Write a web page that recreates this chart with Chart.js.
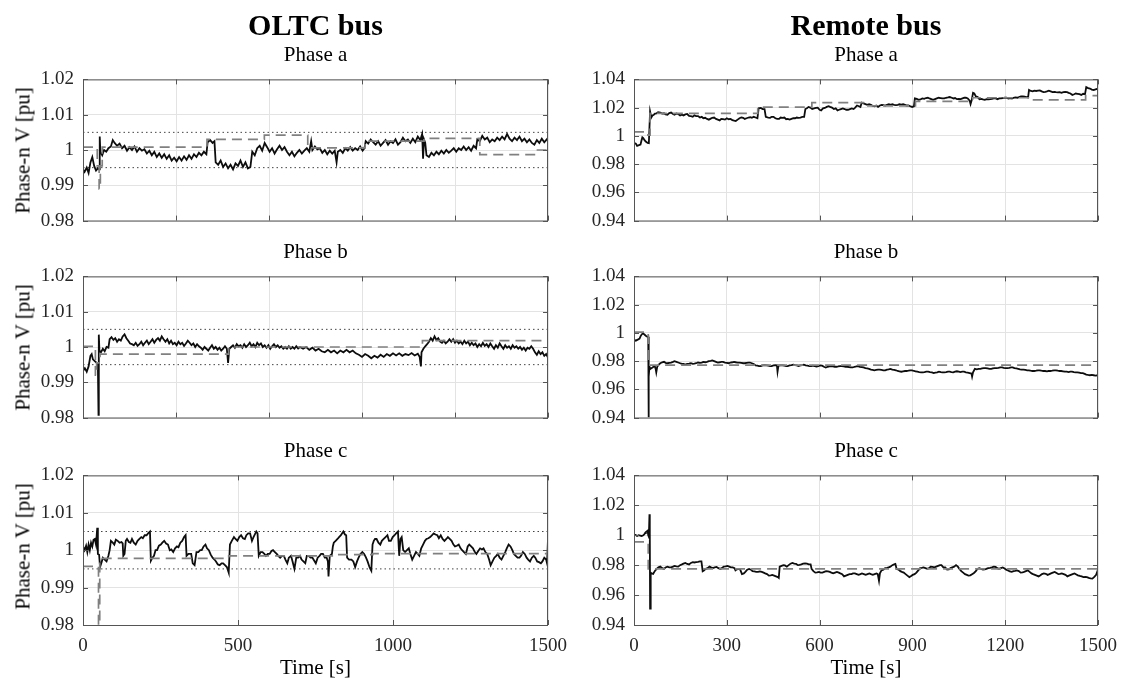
<!DOCTYPE html>
<html>
<head>
<meta charset="utf-8">
<title>OLTC bus / Remote bus phase voltages</title>
<script src="https://cdn.jsdelivr.net/npm/chart.js@4.4.0/dist/chart.umd.min.js"></script>
<style>
  html, body { margin: 0; padding: 0; background: #fff; }
  body {
    width: 1124px; height: 682px; position: relative; overflow: hidden;
    font-family: "Liberation Serif", "Times New Roman", serif; color: #000;
  }
  canvas { position: absolute; }
  .txt { position: absolute; white-space: nowrap; text-align: center; }
</style>
</head>
<body>
<script>
// ---- axis ticks ----
const timeTicks300 = [0, 300, 600, 900, 1200, 1500];
const timeTicks500 = [0, 500, 1000, 1500];
const oltcYTicks = [0.98, 0.99, 1, 1.01, 1.02];
const remoteYTicks = [0.94, 0.96, 0.98, 1, 1.02, 1.04];

// voltage band shown on the OLTC bus panels
const bandHigh = 1.005;
const bandLow = 0.995;

// ---- OLTC bus, [time s, V pu] ----
const oltcA = [[0,0.9945],[5,0.9938],[12,0.995],[18,0.9935],[24,0.9965],[30,0.998],[36,0.9955],[42,0.9942],[48,0.9948],[52,0.9945],[54,1.0038],[56,0.9995],[62,0.9985],[68,1.0],[75,0.9995],[82,1.0005],[90,1.001],[96,1.0028],[102,1.002],[110,1.0012],[118,1.0018],[126,1.0005],[134,1.0012],[142,0.9998],[150,1.0008],[158,1.0],[166,1.001],[174,0.9995],[182,1.0005],[190,0.9998],[198,1.0002],[206,0.999],[214,0.9998],[222,0.9985],[230,0.9995],[238,0.998],[246,0.999],[254,0.9978],[262,0.9988],[270,0.9975],[278,0.9985],[286,0.997],[294,0.9978],[302,0.9968],[310,0.998],[318,0.997],[326,0.9982],[334,0.9972],[342,0.9985],[350,0.9975],[358,0.9988],[366,0.998],[374,0.9992],[382,0.9985],[390,0.9995],[398,0.9988],[402,1.0022],[410,1.0028],[418,1.002],[424,1.0025],[428,0.9965],[436,0.9958],[444,0.997],[452,0.9952],[460,0.9962],[468,0.9948],[476,0.9958],[484,0.9945],[492,0.9962],[500,0.9955],[508,0.997],[516,0.9952],[524,0.9965],[532,0.9948],[540,0.9952],[546,0.9995],[554,0.9985],[562,1.0005],[570,1.0012],[578,0.9998],[586,1.002],[594,1.0008],[602,0.9995],[610,1.0005],[618,0.999],[626,1.0002],[634,1.0012],[642,1.0],[650,1.0008],[658,0.9995],[666,0.9985],[674,0.9995],[682,0.9982],[690,0.9992],[698,1.0],[706,0.999],[714,0.9998],[722,1.0005],[730,0.9995],[736,1.0025],[740,1.0],[748,1.001],[756,1.0002],[764,1.0005],[772,0.9992],[780,1.0],[788,0.9988],[796,0.9998],[804,0.999],[812,0.9998],[818,0.9965],[822,0.9995],[830,1.0],[838,0.9992],[846,1.0005],[854,0.9998],[862,1.0008],[870,0.9998],[878,1.0005],[886,1.0],[894,1.001],[902,0.9998],[908,1.0005],[912,1.0025],[920,1.0018],[928,1.003],[936,1.0022],[944,1.0015],[952,1.0025],[960,1.0012],[968,1.002],[976,1.0028],[984,1.0015],[992,1.0025],[1000,1.002],[1008,1.003],[1016,1.0015],[1024,1.0022],[1032,1.0035],[1040,1.0025],[1048,1.003],[1056,1.002],[1064,1.0032],[1072,1.0022],[1080,1.0038],[1088,1.0028],[1094,1.0045],[1097,0.9975],[1100,1.003],[1104,1.002],[1108,0.9985],[1116,0.998],[1124,0.9992],[1132,0.9985],[1140,0.9995],[1148,0.9988],[1156,0.9998],[1164,0.999],[1172,1.0],[1180,0.9992],[1188,0.9998],[1196,1.0005],[1204,0.9995],[1212,1.0005],[1220,1.0],[1228,1.001],[1236,1.0],[1244,1.0008],[1252,0.9998],[1260,1.0012],[1268,1.0005],[1272,1.003],[1280,1.0025],[1288,1.004],[1296,1.003],[1304,1.0035],[1312,1.0022],[1320,1.003],[1328,1.0025],[1336,1.0035],[1344,1.0028],[1352,1.0038],[1360,1.003],[1368,1.0045],[1376,1.0032],[1384,1.0025],[1392,1.0035],[1400,1.0028],[1408,1.0038],[1416,1.0025],[1424,1.0032],[1432,1.0022],[1440,1.003],[1448,1.002],[1456,1.0015],[1464,1.0028],[1472,1.002],[1480,1.0032],[1488,1.0022],[1496,1.003],[1500,1.0035]];
const oltcARef = [[0,1.0008],[46,1.0008],[46,0.9955],[52,0.9955],[52,0.989],[56,0.989],[56,0.9955],[62,0.9955],[62,1.0008],[400,1.0008],[400,1.003],[585,1.003],[585,1.0042],[725,1.0042],[725,1.0006],[910,1.0006],[910,1.0025],[1100,1.0025],[1100,1.0033],[1280,1.0033],[1280,0.9987],[1460,0.9987],[1460,1.0],[1500,1.0]];

const oltcB = [[0,0.9932],[6,0.994],[12,0.993],[18,0.9945],[24,0.9975],[28,0.998],[32,0.9965],[38,0.996],[44,0.9955],[48,0.995],[50,0.9808],[51,1.0035],[53,0.999],[58,0.9985],[64,0.9995],[70,0.9988],[76,1.0],[82,0.9998],[86,1.0022],[92,1.0028],[98,1.002],[104,1.0025],[110,1.0015],[116,1.0022],[122,1.0018],[128,1.003],[134,1.0036],[140,1.0025],[146,1.0018],[152,1.001],[158,1.0008],[164,1.0005],[170,1.0012],[176,1.0003],[182,1.0008],[188,1.0015],[194,1.0005],[200,1.0012],[206,1.0018],[212,1.0008],[218,1.0015],[224,1.0022],[230,1.0012],[236,1.002],[242,1.0025],[248,1.0018],[254,1.003],[260,1.0022],[266,1.0015],[272,1.0022],[278,1.001],[284,1.0018],[290,1.0008],[296,1.0012],[302,1.0005],[308,1.0015],[314,1.0008],[320,1.0012],[326,1.0003],[332,1.001],[338,1.0018],[344,1.0012],[350,1.0005],[356,1.001],[362,1.0],[368,1.0008],[374,1.0002],[380,0.9998],[386,0.9992],[392,1.0],[398,0.9995],[404,0.999],[410,0.9998],[416,1.0005],[422,0.9995],[428,1.0],[434,0.9992],[440,0.9998],[446,0.999],[452,0.9995],[458,1.0002],[464,0.9995],[468,0.9955],[472,0.9995],[478,1.0],[484,1.0005],[490,0.9998],[496,1.0008],[502,1.0002],[508,1.0005],[514,0.9998],[520,1.0008],[526,1.0],[532,1.0005],[538,1.0012],[544,1.0002],[550,1.0008],[556,1.0],[562,1.0012],[568,1.0005],[574,1.001],[580,1.0],[586,1.0005],[592,0.9998],[598,1.0005],[604,0.9995],[610,1.0002],[616,1.0008],[622,1.0],[628,1.0005],[634,0.9998],[640,1.0002],[646,0.9995],[652,1.0],[658,0.9995],[664,1.0002],[670,0.9995],[676,1.0],[682,0.9995],[688,1.0002],[694,0.9996],[700,1.0],[710,0.9995],[720,1.0],[730,0.9992],[740,0.9998],[750,0.999],[760,0.9995],[770,0.9988],[780,0.9985],[790,0.9992],[800,0.9985],[810,0.999],[820,0.9982],[830,0.999],[840,0.9985],[850,0.9992],[860,0.9985],[870,0.999],[880,0.9982],[890,0.9978],[900,0.9972],[910,0.998],[920,0.9975],[930,0.9968],[940,0.9975],[950,0.997],[960,0.9978],[970,0.9972],[980,0.998],[990,0.9975],[1000,0.9982],[1010,0.9976],[1020,0.9982],[1030,0.9975],[1040,0.998],[1050,0.9977],[1060,0.9983],[1070,0.9976],[1080,0.9981],[1086,0.9972],[1090,0.9945],[1092,0.9985],[1098,0.9995],[1104,1.0002],[1110,1.0008],[1116,1.0015],[1122,1.0025],[1128,1.0018],[1134,1.003],[1140,1.002],[1146,1.0025],[1152,1.0015],[1158,1.0012],[1164,1.0018],[1170,1.001],[1176,1.0015],[1182,1.0022],[1188,1.0015],[1194,1.0022],[1200,1.0012],[1206,1.0018],[1212,1.001],[1218,1.0015],[1224,1.0008],[1230,1.0018],[1236,1.001],[1242,1.0015],[1248,1.0005],[1254,1.0012],[1260,1.0005],[1266,1.001],[1272,1.0],[1278,1.0008],[1284,1.0002],[1290,1.0012],[1296,1.0003],[1302,1.0008],[1308,1.0],[1314,1.001],[1320,1.0002],[1326,0.9995],[1332,1.0005],[1338,0.9998],[1344,1.001],[1350,1.0002],[1356,0.9995],[1362,1.0005],[1368,0.9998],[1374,1.0002],[1380,0.9995],[1386,1.0005],[1392,0.9998],[1398,1.0002],[1404,0.9995],[1410,1.0],[1416,0.9992],[1422,0.9998],[1428,0.999],[1434,0.9998],[1440,0.9995],[1446,1.0002],[1452,0.9995],[1458,0.9985],[1464,0.9978],[1470,0.9988],[1476,0.998],[1482,0.9985],[1488,0.9975],[1494,0.998],[1500,0.997]];
const oltcBRef = [[0,1.0002],[40,1.0002],[40,0.992],[44,0.992],[44,0.9955],[55,0.9955],[55,0.998],[470,0.998],[470,1.0],[1095,1.0],[1095,1.0018],[1500,1.0018]];

const oltcC = [[0,1.001],[5,1.0],[10,1.0012],[14,0.9995],[18,1.0015],[22,1.0],[26,1.002],[30,1.001],[34,1.0028],[38,1.003],[42,1.0015],[46,1.006],[48,0.999],[52,0.9988],[55,0.9955],[60,0.9968],[64,0.998],[70,0.9975],[76,0.997],[82,0.9985],[86,1.0],[90,1.0025],[96,1.002],[101,1.0015],[106,1.0028],[112,1.0025],[118,1.002],[124,1.0022],[128,1.0018],[130,0.9985],[134,0.999],[138,1.0025],[142,1.003],[148,1.0022],[153,1.002],[158,1.003],[164,1.002],[170,1.0015],[176,1.0025],[182,1.003],[188,1.0035],[193,1.0032],[199,1.004],[205,1.004],[210,1.0045],[216,1.005],[219,0.9972],[224,0.998],[229,0.9985],[234,1.0],[239,1.0],[245,1.0012],[251,1.0015],[256,1.002],[262,1.0025],[268,1.0018],[274,1.0015],[280,1.0],[285,1.0002],[291,0.9995],[297,1.0005],[303,1.001],[308,1.0008],[314,1.002],[320,1.0025],[326,1.0035],[331,1.004],[334,0.9985],[340,0.999],[349,0.999],[354,0.9965],[360,0.996],[366,0.9995],[372,0.9995],[378,1.0],[383,1.0],[389,1.001],[395,1.0015],[400,1.0005],[406,1.0],[412,0.9988],[418,0.998],[424,0.9975],[429,0.997],[435,0.9962],[441,0.996],[447,0.9965],[452,0.9965],[458,0.996],[464,0.9955],[468,0.9945],[470,0.994],[474,1.0015],[480,1.0025],[487,1.0035],[492,1.003],[498,1.0025],[504,1.0035],[510,1.004],[516,1.0032],[522,1.003],[527,1.004],[533,1.0045],[539,1.0045],[545,1.0025],[550,1.0035],[556,1.0045],[559,1.005],[563,1.0045],[567,0.9985],[573,0.9995],[579,0.9995],[585,0.999],[590,0.9985],[596,0.999],[602,0.999],[608,0.9998],[613,1.0],[619,0.9995],[625,0.999],[630,0.9985],[636,0.998],[642,0.9985],[648,0.9985],[653,0.9975],[659,0.9965],[664,0.998],[671,0.9985],[676,0.997],[682,0.995],[688,0.998],[694,0.998],[700,0.9985],[705,0.9975],[711,0.997],[717,0.9965],[722,0.9985],[728,0.9985],[734,0.998],[740,0.998],[746,0.9972],[751,0.9965],[757,0.998],[763,0.9985],[768,0.999],[774,0.999],[780,0.998],[786,0.998],[790,0.997],[792,0.993],[796,0.9985],[803,0.999],[806,1.001],[809,1.002],[815,1.0025],[821,1.003],[826,1.0035],[832,1.004],[836,1.0045],[840,1.005],[845,1.0042],[849,1.004],[852,0.998],[858,0.9975],[866,0.9975],[872,0.997],[878,0.9955],[884,0.997],[889,0.998],[895,0.999],[901,0.9995],[907,0.999],[913,0.998],[918,0.997],[924,0.9955],[928,0.9948],[930,0.9945],[934,1.0015],[938,1.0025],[942,1.003],[947,1.003],[953,1.002],[959,1.0015],[964,1.0025],[970,1.003],[976,1.0035],[982,1.004],[987,1.0025],[993,1.0025],[999,1.0035],[1005,1.004],[1010,1.0045],[1016,1.005],[1020,0.9985],[1024,1.003],[1028,1.0035],[1033,1.0],[1039,0.9995],[1045,1.0],[1051,1.0005],[1056,0.999],[1062,0.9975],[1068,0.9985],[1074,0.9995],[1080,0.999],[1085,0.9985],[1091,1.0005],[1097,1.0015],[1103,1.0025],[1108,1.003],[1114,1.0032],[1120,1.0035],[1126,1.004],[1131,1.0045],[1137,1.0042],[1143,1.004],[1148,1.0032],[1154,1.004],[1160,1.003],[1166,1.0025],[1172,1.003],[1177,1.0035],[1183,1.003],[1189,1.0025],[1195,1.0015],[1200,1.001],[1206,1.0012],[1212,1.0015],[1218,1.0005],[1223,1.0],[1229,0.9995],[1235,0.999],[1241,1.001],[1246,1.0015],[1252,1.001],[1258,1.0005],[1264,0.9995],[1269,0.999],[1275,0.9998],[1281,1.0005],[1287,1.0002],[1292,1.0005],[1298,0.9995],[1304,0.999],[1310,0.9975],[1315,0.996],[1321,0.997],[1327,0.998],[1333,0.9985],[1338,0.999],[1344,0.998],[1350,0.9975],[1356,0.9985],[1362,0.9995],[1367,1.0005],[1373,1.0015],[1379,1.001],[1385,1.0],[1390,0.999],[1396,0.9985],[1402,0.998],[1408,0.998],[1413,0.9985],[1419,0.9995],[1425,0.999],[1431,0.998],[1436,0.9975],[1442,0.997],[1448,0.998],[1454,0.9985],[1459,0.998],[1465,0.997],[1471,0.9968],[1477,0.9965],[1482,0.997],[1488,0.998],[1494,0.9975],[1497,0.9965],[1500,1.003]];
const oltcCRef = [[0,0.9957],[50,0.9957],[50,0.98],[54,0.98],[54,0.9978],[470,0.9978],[470,0.9985],[810,0.9985],[810,0.9988],[935,0.9988],[935,0.9991],[1500,0.9991]];

// ---- Remote bus, [time s, V pu] ----
const remoteA = [[0,0.995],[6,0.9945],[10,0.993],[16,0.9935],[21,0.9938],[24,0.9965],[27,0.999],[30,0.9985],[34,0.997],[38,0.996],[44,0.995],[48,0.9948],[50,1.006],[52,1.0172],[56,1.013],[60,1.0145],[64,1.015],[68,1.0158],[73,1.016],[78,1.0168],[85,1.0165],[91,1.0158],[97,1.016],[102,1.0152],[108,1.015],[114,1.0162],[120,1.0165],[126,1.0155],[131,1.015],[137,1.0158],[143,1.0155],[149,1.0145],[155,1.015],[160,1.0145],[166,1.0152],[172,1.0155],[178,1.0142],[184,1.014],[190,1.0135],[195,1.0145],[201,1.014],[207,1.014],[213,1.013],[219,1.0135],[224,1.0125],[230,1.0128],[236,1.012],[242,1.0115],[248,1.0122],[253,1.0128],[259,1.013],[265,1.012],[271,1.0115],[277,1.011],[282,1.012],[288,1.0118],[294,1.0115],[300,1.0125],[306,1.0118],[312,1.012],[318,1.0112],[324,1.0108],[329,1.0105],[335,1.0115],[341,1.0125],[347,1.013],[353,1.0128],[358,1.012],[364,1.0125],[370,1.013],[376,1.0132],[381,1.0128],[387,1.0135],[393,1.013],[399,1.0125],[403,1.0195],[410,1.0198],[416,1.019],[422,1.019],[426,1.0135],[434,1.013],[440,1.0128],[445,1.0135],[451,1.0135],[457,1.0125],[463,1.012],[469,1.012],[474,1.013],[480,1.0128],[486,1.013],[492,1.0118],[497,1.012],[503,1.0115],[509,1.012],[515,1.0125],[521,1.0125],[526,1.013],[532,1.0128],[538,1.013],[544,1.0135],[550,1.0135],[554,1.019],[559,1.0195],[564,1.0205],[570,1.02],[576,1.019],[582,1.0195],[588,1.0198],[594,1.02],[600,1.0185],[605,1.018],[611,1.0195],[617,1.0198],[623,1.0205],[629,1.021],[634,1.0205],[640,1.02],[646,1.019],[652,1.0195],[658,1.018],[663,1.0185],[669,1.019],[675,1.0195],[681,1.019],[686,1.0185],[692,1.0185],[698,1.019],[704,1.0195],[710,1.019],[715,1.02],[721,1.0215],[727,1.021],[732,1.0205],[736,1.0235],[742,1.023],[748,1.0225],[754,1.022],[760,1.0225],[766,1.022],[772,1.0212],[778,1.021],[783,1.0215],[789,1.0205],[795,1.0215],[801,1.022],[806,1.0218],[812,1.0215],[818,1.022],[824,1.0225],[830,1.022],[835,1.0225],[841,1.022],[847,1.0218],[853,1.022],[858,1.0225],[864,1.0222],[870,1.0225],[876,1.022],[881,1.0215],[887,1.0215],[893,1.021],[899,1.0205],[905,1.021],[908,1.0265],[914,1.0262],[920,1.0255],[926,1.0258],[932,1.0265],[938,1.0262],[944,1.0268],[950,1.027],[955,1.0265],[961,1.026],[967,1.0255],[973,1.026],[979,1.0265],[985,1.027],[991,1.0268],[997,1.0265],[1003,1.0265],[1009,1.027],[1015,1.0272],[1021,1.0275],[1027,1.027],[1033,1.0265],[1038,1.0268],[1044,1.026],[1050,1.0262],[1056,1.026],[1062,1.0265],[1068,1.027],[1073,1.027],[1079,1.0265],[1085,1.025],[1088,1.0225],[1092,1.0255],[1096,1.0305],[1100,1.03],[1105,1.028],[1111,1.0275],[1117,1.026],[1122,1.0262],[1128,1.0258],[1134,1.0255],[1140,1.026],[1146,1.0258],[1152,1.026],[1157,1.0262],[1163,1.0265],[1169,1.0265],[1175,1.026],[1181,1.0265],[1186,1.0265],[1192,1.0268],[1198,1.027],[1204,1.027],[1210,1.0265],[1216,1.0268],[1222,1.0265],[1227,1.027],[1233,1.0272],[1239,1.027],[1245,1.0275],[1251,1.028],[1257,1.028],[1263,1.0278],[1269,1.0275],[1274,1.0272],[1277,1.0325],[1283,1.0318],[1289,1.0315],[1294,1.032],[1300,1.0318],[1306,1.032],[1312,1.0322],[1318,1.0315],[1324,1.031],[1330,1.0312],[1335,1.0315],[1341,1.032],[1347,1.0315],[1353,1.031],[1359,1.0312],[1364,1.031],[1370,1.0308],[1376,1.031],[1382,1.0305],[1388,1.031],[1394,1.0312],[1400,1.031],[1405,1.0305],[1411,1.03],[1417,1.029],[1423,1.0295],[1428,1.03],[1434,1.0298],[1440,1.0295],[1446,1.029],[1452,1.0298],[1458,1.0295],[1462,1.0345],[1468,1.0338],[1474,1.0335],[1480,1.0328],[1486,1.0325],[1492,1.033],[1500,1.0335]];
const remoteARef = [[0,1.0028],[45,1.0028],[45,1.0005],[52,1.0005],[52,1.016],[400,1.016],[400,1.0203],[575,1.0203],[575,1.0235],[750,1.0235],[750,1.0212],[910,1.0212],[910,1.0245],[1095,1.0245],[1095,1.027],[1275,1.027],[1275,1.0255],[1460,1.0255],[1460,1.0285],[1500,1.0285]];

const remoteB = [[0,0.995],[6,0.9945],[12,0.9952],[18,0.996],[21,0.9975],[25,0.999],[29,0.9995],[33,0.999],[38,0.998],[42,0.9975],[45,0.997],[46,0.9972],[47,0.94],[48,0.969],[50,0.976],[53,0.9745],[56,0.975],[60,0.9755],[64,0.9762],[67,0.9765],[70,0.9745],[72,0.972],[75,0.976],[80,0.9775],[85,0.9785],[91,0.9792],[97,0.9795],[102,0.9788],[108,0.9785],[114,0.9788],[120,0.979],[126,0.9795],[131,0.98],[137,0.9795],[143,0.979],[149,0.9785],[155,0.978],[160,0.978],[166,0.9775],[172,0.978],[178,0.9782],[184,0.9785],[190,0.978],[195,0.9782],[201,0.9785],[207,0.979],[213,0.9788],[219,0.979],[224,0.9795],[230,0.9792],[236,0.9795],[242,0.98],[248,0.9802],[253,0.9805],[259,0.98],[265,0.9795],[271,0.979],[277,0.9792],[282,0.9795],[288,0.9795],[294,0.979],[300,0.9788],[306,0.9785],[312,0.979],[318,0.9792],[323,0.9795],[329,0.9792],[335,0.979],[341,0.979],[347,0.9788],[353,0.9785],[358,0.9785],[364,0.9788],[370,0.979],[375,0.979],[381,0.9785],[387,0.978],[393,0.977],[399,0.9768],[404,0.9765],[410,0.9765],[416,0.977],[422,0.9772],[428,0.977],[434,0.9768],[440,0.9765],[445,0.9765],[451,0.977],[457,0.9772],[462,0.977],[464,0.9725],[467,0.9768],[474,0.977],[480,0.977],[486,0.9768],[492,0.9765],[497,0.9765],[503,0.977],[509,0.9772],[515,0.9775],[521,0.9772],[526,0.977],[532,0.9765],[538,0.977],[544,0.9772],[549,0.9775],[555,0.977],[561,0.9768],[567,0.9765],[573,0.9765],[578,0.9768],[584,0.9765],[590,0.9762],[596,0.9765],[602,0.977],[608,0.9768],[614,0.976],[620,0.9755],[626,0.976],[632,0.9762],[637,0.9765],[643,0.9762],[649,0.976],[655,0.976],[660,0.9762],[666,0.9765],[672,0.9765],[678,0.9762],[684,0.976],[689,0.976],[695,0.9758],[701,0.9755],[707,0.9755],[713,0.976],[719,0.9762],[724,0.9765],[730,0.976],[736,0.9758],[742,0.9755],[748,0.975],[754,0.9748],[760,0.9745],[766,0.974],[771,0.9738],[777,0.9735],[783,0.9738],[789,0.974],[794,0.974],[800,0.9738],[806,0.9735],[812,0.9735],[818,0.974],[823,0.9742],[829,0.9745],[835,0.974],[841,0.9738],[847,0.9735],[852,0.973],[858,0.9728],[864,0.9725],[870,0.9728],[876,0.973],[881,0.973],[887,0.9732],[893,0.9735],[899,0.9735],[905,0.973],[910,0.9728],[916,0.9725],[922,0.9722],[928,0.972],[934,0.972],[939,0.9722],[945,0.9725],[951,0.9725],[957,0.9722],[963,0.972],[969,0.9715],[974,0.9718],[980,0.972],[986,0.9725],[992,0.9722],[997,0.972],[1003,0.972],[1009,0.9722],[1015,0.9725],[1021,0.9725],[1026,0.9722],[1032,0.972],[1038,0.9725],[1044,0.9728],[1050,0.9725],[1055,0.9722],[1061,0.9725],[1067,0.9725],[1073,0.972],[1079,0.9718],[1085,0.9715],[1091,0.9712],[1093,0.969],[1096,0.972],[1102,0.9745],[1108,0.9742],[1114,0.9745],[1120,0.9745],[1125,0.9748],[1131,0.975],[1137,0.975],[1143,0.9748],[1149,0.9745],[1155,0.9745],[1160,0.9748],[1166,0.975],[1172,0.975],[1178,0.9752],[1184,0.9755],[1190,0.9755],[1195,0.9752],[1201,0.975],[1207,0.975],[1213,0.9752],[1219,0.9755],[1224,0.9755],[1230,0.975],[1236,0.9748],[1242,0.9745],[1248,0.9742],[1253,0.974],[1259,0.974],[1265,0.9738],[1271,0.9735],[1276,0.9735],[1282,0.9732],[1288,0.973],[1294,0.973],[1300,0.9732],[1306,0.9735],[1311,0.9735],[1317,0.9732],[1323,0.973],[1329,0.973],[1335,0.9728],[1340,0.973],[1346,0.973],[1352,0.9732],[1358,0.9735],[1364,0.9735],[1370,0.9732],[1376,0.973],[1381,0.973],[1387,0.9728],[1393,0.9725],[1399,0.9725],[1405,0.9722],[1410,0.9725],[1416,0.9725],[1422,0.9722],[1428,0.972],[1433,0.972],[1439,0.9718],[1445,0.9715],[1451,0.9715],[1457,0.971],[1462,0.9705],[1468,0.9702],[1474,0.97],[1480,0.9702],[1486,0.97],[1492,0.9698],[1500,0.97]];
const remoteBRef = [[0,1.0005],[46,1.0005],[46,0.9772],[1500,0.9772]];

const remoteC = [[0,1.0],[5,1.0002],[10,0.9995],[15,1.0],[20,0.9998],[25,0.9995],[30,1.0],[33,1.0005],[36,1.0015],[38,1.002],[41,1.0025],[44,1.003],[46,1.0],[48,0.999],[50,1.014],[51,1.006],[52,0.951],[54,0.975],[57,0.9745],[62,0.9742],[67,0.976],[73,0.9775],[79,0.9785],[85,0.979],[91,0.978],[97,0.9775],[102,0.9785],[108,0.979],[114,0.9785],[120,0.9785],[126,0.979],[131,0.9795],[137,0.9792],[143,0.979],[149,0.98],[155,0.9805],[160,0.981],[166,0.9815],[172,0.9808],[178,0.9805],[184,0.9815],[190,0.982],[195,0.9818],[201,0.982],[207,0.9822],[213,0.9825],[218,0.9825],[222,0.976],[226,0.9765],[232,0.9775],[238,0.978],[244,0.979],[249,0.9785],[255,0.978],[261,0.9785],[267,0.9788],[273,0.978],[279,0.9775],[284,0.978],[290,0.979],[296,0.9792],[302,0.9795],[308,0.979],[313,0.9785],[319,0.9785],[325,0.978],[328,0.9765],[331,0.977],[337,0.9775],[343,0.9772],[349,0.974],[355,0.9745],[360,0.9755],[366,0.977],[372,0.9775],[378,0.977],[383,0.976],[389,0.9758],[395,0.9755],[401,0.9755],[407,0.9758],[413,0.9755],[419,0.975],[424,0.9745],[430,0.974],[436,0.973],[442,0.9732],[447,0.9735],[453,0.973],[459,0.9725],[465,0.972],[468,0.9715],[471,0.979],[477,0.9795],[483,0.98],[488,0.9798],[494,0.979],[500,0.98],[506,0.981],[512,0.9815],[518,0.981],[524,0.9808],[530,0.98],[535,0.9802],[541,0.9805],[547,0.981],[553,0.9812],[559,0.981],[565,0.9805],[571,0.9805],[574,0.9775],[580,0.976],[586,0.975],[592,0.9752],[598,0.9755],[603,0.975],[609,0.975],[615,0.9755],[621,0.976],[627,0.9758],[633,0.9755],[638,0.975],[644,0.9745],[650,0.975],[656,0.9755],[662,0.975],[667,0.9745],[673,0.974],[679,0.9725],[685,0.973],[691,0.9735],[697,0.974],[703,0.974],[708,0.9745],[714,0.9745],[720,0.974],[726,0.9735],[732,0.974],[737,0.9745],[743,0.974],[749,0.9735],[755,0.974],[761,0.9745],[766,0.974],[772,0.9735],[778,0.974],[784,0.9745],[788,0.974],[792,0.9695],[795,0.9745],[800,0.9765],[806,0.977],[812,0.978],[818,0.9782],[823,0.9785],[829,0.979],[835,0.98],[841,0.9805],[845,0.9808],[849,0.9775],[855,0.977],[861,0.976],[866,0.9755],[872,0.975],[878,0.974],[884,0.973],[890,0.972],[896,0.9728],[901,0.9735],[907,0.974],[913,0.975],[919,0.9765],[925,0.978],[930,0.9782],[936,0.9785],[942,0.978],[948,0.9775],[954,0.978],[959,0.979],[965,0.9788],[971,0.9785],[977,0.979],[983,0.9795],[989,0.98],[994,0.98],[1000,0.9785],[1006,0.9785],[1012,0.977],[1018,0.9772],[1023,0.978],[1029,0.9785],[1035,0.979],[1041,0.98],[1047,0.979],[1052,0.9775],[1058,0.976],[1064,0.975],[1070,0.974],[1076,0.9735],[1081,0.973],[1087,0.9732],[1093,0.974],[1099,0.9748],[1105,0.976],[1110,0.9775],[1116,0.978],[1122,0.9775],[1128,0.977],[1134,0.9772],[1139,0.9775],[1145,0.978],[1151,0.9782],[1157,0.9785],[1163,0.979],[1169,0.9788],[1174,0.978],[1180,0.9775],[1186,0.978],[1192,0.9785],[1198,0.9778],[1203,0.977],[1209,0.9765],[1215,0.9758],[1221,0.9755],[1227,0.976],[1232,0.9762],[1238,0.9765],[1244,0.976],[1250,0.975],[1256,0.9752],[1261,0.9755],[1267,0.976],[1273,0.9765],[1279,0.9755],[1285,0.9745],[1290,0.974],[1296,0.9735],[1302,0.973],[1308,0.9725],[1314,0.9732],[1319,0.974],[1325,0.9745],[1331,0.9742],[1337,0.9735],[1343,0.974],[1348,0.9745],[1354,0.975],[1360,0.9755],[1366,0.9748],[1372,0.974],[1377,0.9742],[1383,0.9745],[1389,0.974],[1395,0.9735],[1401,0.9725],[1406,0.973],[1412,0.9735],[1418,0.974],[1424,0.9745],[1430,0.9738],[1435,0.9732],[1441,0.9728],[1447,0.9725],[1453,0.972],[1459,0.9722],[1464,0.972],[1470,0.9715],[1476,0.9712],[1482,0.971],[1488,0.9722],[1494,0.9735],[1500,0.977]];
const remoteCRef = [[0,0.9955],[46,0.9955],[46,0.9775],[1500,0.9775]];

// ---- layout (plot areas in page pixels) ----
const COLS = [{ left: 83, width: 465 }, { left: 634, width: 464 }];
const ROWS = [{ top: 71, height: 158 }, { top: 268, height: 158 }, { top: 467, height: 158 }];
const PAD_L = 60, PAD_T = 12, PAD_R = 36;

const FONT = '"Liberation Serif", "Times New Roman", serif';
const AXIS_COLOR = '#555555';
const TEXT_COLOR = '#262626';

const panels = [
  { col: 0, row: 0, name: 'Phase a', v: oltcA, ref: oltcARef, band: true, yTicks: oltcYTicks, xTicks: timeTicks300 },
  { col: 0, row: 1, name: 'Phase b', v: oltcB, ref: oltcBRef, band: true, yTicks: oltcYTicks, xTicks: timeTicks300 },
  { col: 0, row: 2, name: 'Phase c', v: oltcC, ref: oltcCRef, band: true, yTicks: oltcYTicks, xTicks: timeTicks500 },
  { col: 1, row: 0, name: 'Phase a', v: remoteA, ref: remoteARef, band: false, yTicks: remoteYTicks, xTicks: timeTicks300 },
  { col: 1, row: 1, name: 'Phase b', v: remoteB, ref: remoteBRef, band: false, yTicks: remoteYTicks, xTicks: timeTicks300 },
  { col: 1, row: 2, name: 'Phase c', v: remoteC, ref: remoteCRef, band: false, yTicks: remoteYTicks, xTicks: timeTicks300 }
];

function toXY(pairs) {
  return pairs.map(p => ({ x: p[0], y: p[1] }));
}

function addText(text, css) {
  const d = document.createElement('div');
  d.className = 'txt';
  d.textContent = text;
  Object.assign(d.style, css);
  document.body.appendChild(d);
  return d;
}

// box around the plot area with inward tick marks on all four sides
const framePlugin = {
  id: 'frame',
  afterDraw(chart) {
    const { ctx, chartArea: a, scales } = chart;
    const len = 5;
    ctx.save();
    ctx.strokeStyle = AXIS_COLOR;
    ctx.lineWidth = 1;
    ctx.beginPath();
    scales.x.ticks.forEach(t => {
      const px = Math.round(scales.x.getPixelForValue(t.value)) + 0.5;
      ctx.moveTo(px, a.bottom); ctx.lineTo(px, a.bottom - len);
      ctx.moveTo(px, a.top); ctx.lineTo(px, a.top + len);
    });
    scales.y.ticks.forEach(t => {
      const py = Math.round(scales.y.getPixelForValue(t.value)) + 0.5;
      ctx.moveTo(a.left, py); ctx.lineTo(a.left + len, py);
      ctx.moveTo(a.right, py); ctx.lineTo(a.right - len, py);
    });
    ctx.stroke();
    ctx.strokeRect(a.left + 0.5, a.top + 0.5, a.right - a.left - 1, a.bottom - a.top);
    ctx.restore();
  }
};

panels.forEach(p => {
  const col = COLS[p.col], row = ROWS[p.row];
  const isBottom = p.row === 2;
  const padB = isBottom ? 44 : 12;

  const canvas = document.createElement('canvas');
  const w = col.width + PAD_L + PAD_R;
  const h = row.height + PAD_T + padB;
  canvas.width = w; canvas.height = h;
  canvas.style.left = (col.left - PAD_L) + 'px';
  canvas.style.top = (row.top - PAD_T) + 'px';
  canvas.style.width = w + 'px';
  canvas.style.height = h + 'px';
  document.body.appendChild(canvas);

  const datasets = [
    {
      data: toXY(p.ref), borderColor: '#808080', borderWidth: 1.7,
      borderDash: [10, 6], order: 0
    },
    {
      data: toXY(p.v), borderColor: '#0d0d0d', borderWidth: 1.8, order: 1
    }
  ];
  if (p.band) {
    [bandHigh, bandLow].forEach(lim => {
      datasets.push({
        data: toXY([[timeTicks300[0], lim], [timeTicks300[timeTicks300.length - 1], lim]]),
        borderColor: '#444444', borderWidth: 1, borderDash: [1.5, 3], order: 2
      });
    });
  }

  const yMin = p.yTicks[0], yMax = p.yTicks[p.yTicks.length - 1];
  const xMin = p.xTicks[0], xMax = p.xTicks[p.xTicks.length - 1];

  new Chart(canvas, {
    type: 'line',
    data: { datasets },
    options: {
      responsive: false,
      animation: false,
      devicePixelRatio: 1,
      parsing: false,
      elements: { point: { radius: 0 }, line: { tension: 0 } },
      layout: { padding: { top: PAD_T, right: PAD_R, left: 0, bottom: 0 } },
      plugins: { legend: { display: false }, tooltip: { enabled: false } },
      scales: {
        x: {
          type: 'linear', min: xMin, max: xMax,
          afterBuildTicks: s => { s.ticks = p.xTicks.map(v => ({ value: v })); },
          afterFit: s => { s.height = padB; },
          ticks: {
            display: isBottom, color: TEXT_COLOR, padding: 10,
            font: { family: FONT, size: 19 }, maxRotation: 0, autoSkip: false,
            callback: v => String(v)
          },
          grid: { color: '#e3e3e3', drawTicks: false },
          border: { display: false }
        },
        y: {
          type: 'linear', min: yMin, max: yMax,
          afterBuildTicks: s => { s.ticks = p.yTicks.map(v => ({ value: v })); },
          afterFit: s => { s.width = PAD_L; },
          ticks: {
            color: TEXT_COLOR, padding: 9,
            font: { family: FONT, size: 19 },
            callback: v => String(+Number(v).toFixed(2))
          },
          grid: { color: '#e3e3e3', drawTicks: false },
          border: { display: false }
        }
      }
    },
    plugins: [framePlugin]
  });

  // panel title
  addText(p.name, {
    left: (col.left + col.width / 2 - 100) + 'px', width: '200px',
    top: (row.top - 27) + 'px', fontSize: '21px', lineHeight: '21px'
  });

  if (p.col === 0) {
    addText('Phase-n V [pu]', {
      left: (23 - row.height / 2) + 'px', width: row.height + 'px',
      top: (row.top + row.height / 2 - 10.5) + 'px',
      fontSize: '21px', lineHeight: '21px', transform: 'rotate(-90deg)'
    });
  }
  if (isBottom) {
    addText('Time [s]', {
      left: (col.left + col.width / 2 - 100) + 'px', width: '200px',
      top: '657px', fontSize: '21px', lineHeight: '21px'
    });
  }
});

addText('OLTC bus', {
  left: (COLS[0].left + COLS[0].width / 2 - 150) + 'px', width: '300px',
  top: '10px', fontSize: '30px', lineHeight: '30px', fontWeight: 'bold'
});
addText('Remote bus', {
  left: (COLS[1].left + COLS[1].width / 2 - 150) + 'px', width: '300px',
  top: '10px', fontSize: '30px', lineHeight: '30px', fontWeight: 'bold'
});
</script>
</body>
</html>
